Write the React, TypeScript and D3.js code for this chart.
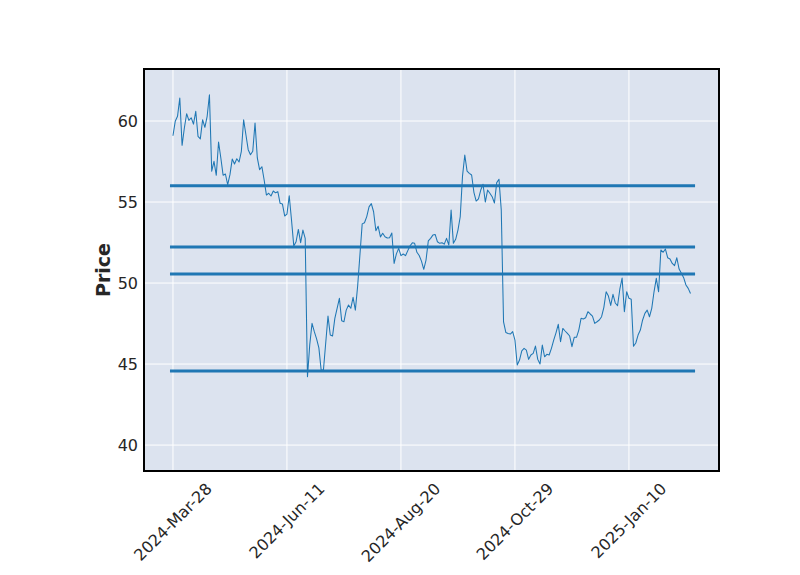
import React, { useEffect, useRef } from 'react';
import * as d3 from 'd3';

const prices: number[] = [
  59.09, 59.98, 60.29, 61.42, 58.5, 59.57, 60.45, 60.04, 60.2, 59.81,
  60.6, 59.05, 58.9, 60.08, 59.61, 60.29, 61.62, 56.9, 57.51, 56.65,
  58.7, 57.72, 56.65, 56.73, 56.07, 56.69, 57.65, 57.35, 57.67, 57.47,
  58.13, 60.08, 59.15, 58.23, 57.92, 58.13, 59.88, 57.72, 57.0, 57.18,
  56.36, 55.43, 55.54, 55.37, 55.68, 55.57, 55.64, 54.92, 54.88, 54.14,
  54.25, 55.39, 53.89, 52.28, 52.55, 53.31, 52.49, 53.27, 52.76, 44.22,
  46.2, 47.51, 47.0, 46.55, 46.0, 44.63, 44.63, 46.3, 47.96, 46.79,
  46.73, 47.82, 48.44, 49.06, 47.67, 47.61, 48.33, 48.64, 48.44, 49.12,
  48.33, 49.8, 51.73, 53.65, 53.72, 54.1, 54.7, 54.9, 54.4, 53.23,
  53.5, 52.85, 53.07, 52.86, 52.78, 52.8, 53.09, 51.21, 51.8, 52.14,
  51.69, 51.79, 51.69, 52.0, 52.3, 52.48, 52.45, 51.9, 51.7, 51.35,
  50.85, 51.42, 52.6, 52.76, 52.96, 53.0, 52.55, 52.45, 52.49, 52.4,
  52.76, 52.35, 54.51, 52.45, 52.7, 53.27, 54.09, 56.6, 57.9, 56.91,
  56.77, 56.67, 55.6, 55.06, 55.2, 55.74, 56.1, 55.0, 55.74, 55.54,
  55.33, 54.94, 56.2, 56.41, 54.5, 47.61, 46.95, 46.89, 46.85, 47.0,
  46.48, 44.94, 45.25, 45.82, 45.97, 45.86, 45.29, 45.56, 45.66, 46.11,
  45.29, 45.0, 46.17, 45.45, 45.6, 45.56, 45.97, 46.48, 46.93, 47.45,
  46.38, 47.2, 47.04, 46.89, 46.73, 46.07, 46.65, 46.65, 47.1, 47.82,
  47.78, 47.86, 48.23, 48.09, 47.96, 47.51, 47.61, 47.72, 47.92, 48.5,
  49.46, 49.2, 48.62, 49.3, 48.77, 48.6, 49.62, 50.31, 48.23, 49.46,
  49.06, 49.0, 46.1, 46.3, 46.79, 47.1, 47.72, 48.13, 48.33, 47.92,
  48.44, 49.46, 50.29, 49.46, 52.04, 51.9, 52.1, 51.56, 51.48, 51.21,
  51.07, 51.56, 50.86, 50.6, 50.33, 49.88, 49.67, 49.36,
];

const hlineValues: number[] = [56.0, 52.22, 50.56, 44.57];
const xTickIndices: number[] = [0, 50, 100, 150, 200];
const xTickLabels: string[] = ['2024-Mar-28', '2024-Jun-11', '2024-Aug-20', '2024-Oct-29', '2025-Jan-10'];
const yTickValues: number[] = [40, 45, 50, 55, 60];

export default function App() {
  const ref = useRef<SVGSVGElement>(null);

  useEffect(() => {
    const svg = d3.select(ref.current);
    svg.selectAll('*').remove();
    const left = 144, right = 719, top = 69, bottom = 471;
    const font = 'DejaVu Sans, sans-serif';
    const fs = 16;

    const x = d3.scaleLinear().domain([-12.7, 239.5]).range([left, right]);
    const y = d3.scaleLinear().domain([38.4, 63.21]).range([bottom, top]);

    svg.append('rect').attr('x', 0).attr('y', 0).attr('width', 800).attr('height', 575).attr('fill', '#ffffff');
    svg.append('rect').attr('x', left).attr('y', top).attr('width', right - left).attr('height', bottom - top).attr('fill', '#DCE3EF');

    const grid = svg.append('g');
    grid.selectAll('line.v').data(xTickIndices).enter().append('line')
      .attr('x1', d => x(d)).attr('x2', d => x(d)).attr('y1', top).attr('y2', bottom)
      .attr('stroke', '#ffffff').attr('stroke-width', 1);
    grid.selectAll('line.h').data(yTickValues).enter().append('line')
      .attr('x1', left).attr('x2', right).attr('y1', d => y(d)).attr('y2', d => y(d))
      .attr('stroke', '#ffffff').attr('stroke-width', 1);

    const line = d3.line<number>().x((_, i) => x(i)).y(d => y(d));
    svg.append('path').datum(prices).attr('d', line).attr('fill', 'none')
      .attr('stroke', '#1f77b4').attr('stroke-width', 1.05).attr('stroke-linejoin', 'round');

    svg.selectAll('line.hl').data(hlineValues).enter().append('line')
      .attr('x1', x(-1.3)).attr('x2', x(prices.length + 1))
      .attr('y1', d => y(d)).attr('y2', d => y(d))
      .attr('stroke', '#1f77b4').attr('stroke-width', 3);

    svg.append('rect').attr('x', left).attr('y', top).attr('width', right - left).attr('height', bottom - top)
      .attr('fill', 'none').attr('stroke', '#000').attr('stroke-width', 2);

    svg.selectAll('text.yt').data(yTickValues).enter().append('text')
      .attr('x', left - 6).attr('y', d => y(d)).attr('text-anchor', 'end').attr('dominant-baseline', 'central')
      .attr('font-family', font).attr('font-size', fs).attr('fill', '#262626').text(d => String(d));

    xTickIndices.forEach((idx, k) => {
      const t = svg.append('text')
        .attr('text-anchor', 'middle').attr('dominant-baseline', 'central')
        .attr('font-family', font).attr('font-size', fs).attr('fill', '#262626')
        .text(xTickLabels[k]);
      const w = (t.node() as SVGTextElement).getComputedTextLength();
      const h = fs * 1.05;
      const cy = bottom + 9 + (w + h) * Math.SQRT1_2 / 2;
      t.attr('transform', `translate(${x(idx)},${cy}) rotate(-45)`);
    });

    svg.append('text')
      .attr('transform', `translate(103,${(top + bottom) / 2}) rotate(-90)`)
      .attr('text-anchor', 'middle').attr('dominant-baseline', 'central')
      .attr('font-family', font).attr('font-size', 19).attr('font-weight', 'bold').attr('fill', '#262626')
      .text('Price');
  }, []);

  return <svg ref={ref} width={800} height={575} style={{ position: 'absolute', left: 0, top: 0, display: 'block' }} />;
}
